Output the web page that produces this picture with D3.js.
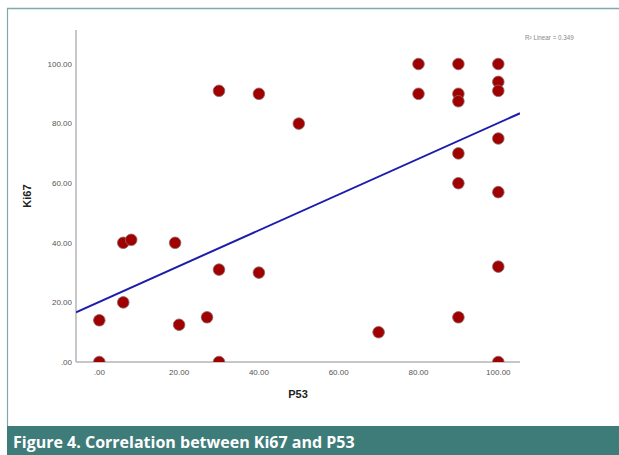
<!DOCTYPE html>
<html>
<head>
<meta charset="utf-8">
<script src="https://cdn.jsdelivr.net/npm/d3@7"></script>
<style>
  html, body { margin: 0; padding: 0; background: #fff; }
  svg { display: block; }
</style>
</head>
<body>
<div id="chart"></div>
<script>
(function() {
    // Values (P53 on x, Ki67 on y)
    const p53 = [0, 0, 6, 8, 6, 19, 20, 27, 30, 30, 30, 40, 40, 50, 70,
                 80, 80, 90, 90, 90, 90, 90, 90, 100, 100, 100, 100, 100, 100, 100];
    const ki67 = [0, 14, 40, 41, 20, 40, 12.5, 15, 91, 31, 0, 90, 30, 80, 10,
                  100, 90, 100, 90, 87.5, 70, 60, 15, 100, 94, 91, 75, 57, 32, 0];

    const xTicks = [0, 20, 40, 60, 80, 100];
    const yTicks = [0, 20, 40, 60, 80, 100];

    // Fit line as drawn in the figure (SPSS linear fit)
    const FIT_INTERCEPT = 20.2;
    const FIT_SLOPE = 0.6;
    const FIT_LABEL = 'R\u00b2 Linear = 0.349';

    const CAPTION = 'Figure 4. Correlation between Ki67 and P53';
    const X_TITLE = 'P53';
    const Y_TITLE = 'Ki67';

    const W = 619, H = 455;
    const TEAL = '#3d7c79';
    const FRAME = '#7eaaa7';
    const AXIS = '#b4b4b4';
    const POINT = '#a00000';
    const LINE = '#1c1cae';

    // Plot area in pixels
    const plot = { left: 76, right: 520, top: 30, bottom: 362 };

    const x = d3.scaleLinear().domain([0, 100]).range([99.3, 498.3]);
    const y = d3.scaleLinear().domain([0, 100]).range([plot.bottom, 64]);

    const svg = d3.select('#chart').append('svg')
        .attr('width', W)
        .attr('height', H)
        .attr('viewBox', '0 0 ' + W + ' ' + H);

    svg.append('rect').attr('width', W).attr('height', H).attr('fill', '#fff');

    // frame: top and left teal rules
    svg.append('line')
        .attr('x1', 7).attr('x2', W).attr('y1', 8.5).attr('y2', 8.5)
        .attr('stroke', FRAME).attr('stroke-width', 1.6);
    svg.append('line')
        .attr('x1', 7.5).attr('x2', 7.5).attr('y1', 8).attr('y2', 426)
        .attr('stroke', FRAME).attr('stroke-width', 1.2);

    // caption bar
    svg.append('rect')
        .attr('x', 7).attr('y', 426).attr('width', W - 7).attr('height', H - 426)
        .attr('fill', TEAL);
    svg.append('text')
        .attr('x', 13).attr('y', 448)
        .attr('fill', '#fff')
        .style('font-family', '"Open Sans", "Noto Sans", sans-serif')
        .style('font-weight', 700)
        .style('font-size', '16px')
        .text(CAPTION);

    const defs = svg.append('defs');
    defs.append('clipPath').attr('id', 'plot-clip')
        .append('rect')
        .attr('x', plot.left).attr('y', plot.top)
        .attr('width', plot.right - plot.left)
        .attr('height', plot.bottom - plot.top);

    const tickFmt = function(d) {
        const s = d3.format('.2f')(d);
        return s.startsWith('0.') ? s.slice(1) : s;
    };

    // axis tick labels
    const lab = svg.append('g')
        .style('font-family', 'Arial, "Liberation Sans", sans-serif')
        .style('font-size', '8px')
        .attr('fill', '#555');

    lab.selectAll('text.yt').data(yTicks).join('text')
        .attr('class', 'yt')
        .attr('x', 72)
        .attr('y', function(d) { return y(d); })
        .attr('dy', '0.35em')
        .attr('text-anchor', 'end')
        .text(tickFmt);

    lab.selectAll('text.xt').data(xTicks).join('text')
        .attr('class', 'xt')
        .attr('x', function(d) { return x(d); })
        .attr('y', 372)
        .attr('dy', '0.35em')
        .attr('text-anchor', 'middle')
        .text(tickFmt);

    // axis titles
    svg.append('text')
        .attr('x', (plot.left + plot.right) / 2).attr('y', 398)
        .attr('text-anchor', 'middle')
        .style('font-family', 'Arial, "Liberation Sans", sans-serif')
        .style('font-weight', 'bold')
        .style('font-size', '11px')
        .attr('fill', '#222')
        .text(X_TITLE);

    svg.append('text')
        .attr('transform', 'translate(31,' + ((plot.top + plot.bottom) / 2) + ') rotate(-90)')
        .attr('text-anchor', 'middle')
        .style('font-family', 'Arial, "Liberation Sans", sans-serif')
        .style('font-weight', 'bold')
        .style('font-size', '11px')
        .attr('fill', '#222')
        .text(Y_TITLE);

    // fit legend
    svg.append('text')
        .attr('x', 525).attr('y', 39.5)
        .style('font-family', 'Arial, "Liberation Sans", sans-serif')
        .style('font-size', '6.3px')
        .attr('fill', '#888')
        .text(FIT_LABEL);

    // axis lines
    svg.append('line')
        .attr('x1', plot.left).attr('x2', plot.left)
        .attr('y1', plot.top).attr('y2', plot.bottom)
        .attr('stroke', AXIS).attr('stroke-width', 1.5);
    svg.append('line')
        .attr('x1', plot.left).attr('x2', plot.right)
        .attr('y1', plot.bottom).attr('y2', plot.bottom)
        .attr('stroke', AXIS).attr('stroke-width', 1.5);

    const g = svg.append('g').attr('clip-path', 'url(#plot-clip)');

    // points
    const pts = p53.map(function(v, i) { return [v, ki67[i]]; });
    g.selectAll('circle').data(pts).join('circle')
        .attr('cx', function(d) { return x(d[0]); })
        .attr('cy', function(d) { return y(d[1]); })
        .attr('r', 5.8)
        .attr('fill', POINT)
        .attr('stroke', '#8a6a6a')
        .attr('stroke-width', 0.8);

    // fit line across the full x extent of the plot
    const x0 = x.invert(plot.left), x1 = x.invert(plot.right);
    g.append('line')
        .attr('x1', x(x0)).attr('y1', y(FIT_INTERCEPT + FIT_SLOPE * x0))
        .attr('x2', x(x1)).attr('y2', y(FIT_INTERCEPT + FIT_SLOPE * x1))
        .attr('stroke', LINE)
        .attr('stroke-width', 2);
})();
</script>
</body>
</html>
